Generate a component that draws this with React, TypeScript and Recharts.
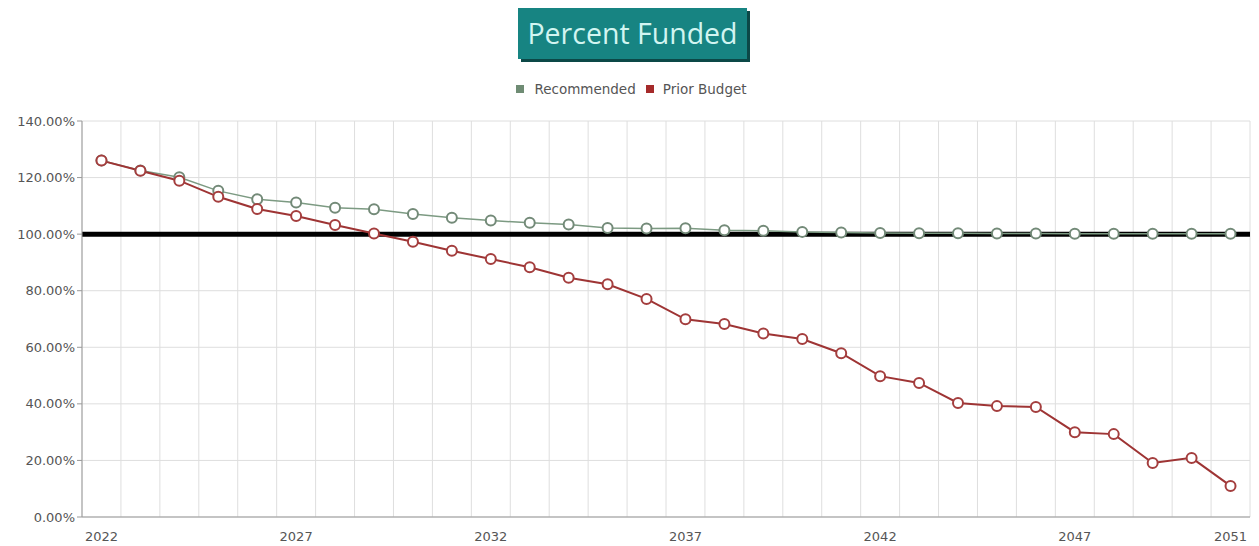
import { LineChart, Line, XAxis, YAxis, CartesianGrid, ReferenceLine } from "recharts";

const years = [
  2022, 2023, 2024, 2025, 2026, 2027, 2028, 2029, 2030, 2031,
  2032, 2033, 2034, 2035, 2036, 2037, 2038, 2039, 2040, 2041,
  2042, 2043, 2044, 2045, 2046, 2047, 2048, 2049, 2050, 2051,
];

const recommended = [
  126.0, 122.5, 120.1, 115.3, 112.3, 111.2, 109.3, 108.8, 107.1, 105.8,
  104.8, 104.0, 103.4, 102.2, 102.0, 102.1, 101.4, 101.2, 100.8, 100.6,
  100.4, 100.3, 100.3, 100.2, 100.2, 100.1, 100.1, 100.1, 100.1, 100.1,
];

const priorBudget = [
  126.0, 122.4, 118.9, 113.2, 108.9, 106.4, 103.2, 100.2, 97.3, 94.1,
  91.2, 88.3, 84.6, 82.3, 77.1, 69.9, 68.2, 64.9, 62.9, 57.9,
  49.8, 47.4, 40.3, 39.2, 38.9, 30.0, 29.3, 19.1, 20.9, 11.0,
];

const yTicks = [0, 20, 40, 60, 80, 100, 120, 140];
const yearLabels = [2022, 2027, 2032, 2037, 2042, 2047, 2051];
const bandEdges = [
  2021.5, 2022.5, 2023.5, 2024.5, 2025.5, 2026.5, 2027.5, 2028.5, 2029.5, 2030.5,
  2031.5, 2032.5, 2033.5, 2034.5, 2035.5, 2036.5, 2037.5, 2038.5, 2039.5, 2040.5,
  2041.5, 2042.5, 2043.5, 2044.5, 2045.5, 2046.5, 2047.5, 2048.5, 2049.5, 2050.5,
  2051.5,
];

const GREEN = "#7c9a82";
const RED = "#9e3434";
const TICK_FONT = "'DejaVu Sans', Verdana, sans-serif";

const data = years.map((year, i) => ({
  year,
  recommended: recommended[i],
  prior: priorBudget[i],
}));

export default function App() {
  return (
    <div
      style={{
        position: "absolute",
        left: 0,
        top: 0,
        width: 1259,
        height: 546,
        background: "#fff",
        fontFamily: TICK_FONT,
      }}
    >
      {/* title badge */}
      <div
        style={{
          position: "absolute",
          left: 518,
          top: 8,
          width: 229,
          height: 51,
          background: "#178482",
          color: "#d2f5f1",
          fontFamily: "'Open Sans', sans-serif",
          fontSize: 28.5,
          lineHeight: "51px",
          textAlign: "center",
          boxShadow: "3px 3px 0 #0c4847",
        }}
      >
        Percent Funded
      </div>

      {/* legend */}
      <div
        style={{
          position: "absolute",
          top: 81,
          left: 0,
          width: 1259,
          display: "flex",
          justifyContent: "center",
          alignItems: "center",
          fontSize: 13.5,
          color: "#555",
          paddingLeft: 2,
        }}
      >
        <span style={{ width: 8, height: 8, background: "#6f8c74", marginRight: 10 }} />
        <span style={{ marginRight: 10 }}>Recommended</span>
        <span style={{ width: 8, height: 8, background: "#a52a2a", marginRight: 9 }} />
        <span>Prior Budget</span>
      </div>

      <div style={{ position: "absolute", left: 0, top: 0 }}>
        <LineChart
          width={1259}
          height={546}
          data={data}
          margin={{ top: 121, right: 9, bottom: 0, left: 0 }}
        >
          <XAxis
            xAxisId="grid"
            dataKey="year"
            type="number"
            domain={[2021.5, 2051.5]}
            ticks={bandEdges}
            interval={0}
            tickFormatter={() => ""}
            tickSize={4}
            tickLine={{ stroke: "#999" }}
            axisLine={false}
            height={0}
          />
          <CartesianGrid xAxisId="grid" stroke="#dedede" />
          <XAxis
            dataKey="year"
            type="number"
            domain={[2021.5, 2051.5]}
            ticks={yearLabels}
            interval={0}
            tickLine={false}
            tickMargin={9}
            axisLine={{ stroke: "#999" }}
            tick={{ fill: "#555", fontSize: 13, fontFamily: TICK_FONT }}
            height={29}
          />
          <YAxis
            domain={[0, 140]}
            ticks={yTicks}
            interval={0}
            width={82}
            tickFormatter={(v: number) => v.toFixed(2) + "%"}
            tick={{ fill: "#555", fontSize: 13, fontFamily: TICK_FONT }}
            tickSize={5}
            tickLine={{ stroke: "#999" }}
            axisLine={{ stroke: "#999" }}
          />
          <ReferenceLine y={100} stroke="#000" strokeWidth={5} />
          <Line
            dataKey="recommended"
            type="linear"
            stroke={GREEN}
            strokeWidth={1.5}
            dot={{ r: 5, fill: "#fff", stroke: "#738a78", strokeWidth: 2 }}
            isAnimationActive={false}
          />
          <Line
            dataKey="prior"
            type="linear"
            stroke={RED}
            strokeWidth={2}
            dot={{ r: 5, fill: "#fff", stroke: "#a43e3e", strokeWidth: 2 }}
            isAnimationActive={false}
          />
        </LineChart>
      </div>
    </div>
  );
}
